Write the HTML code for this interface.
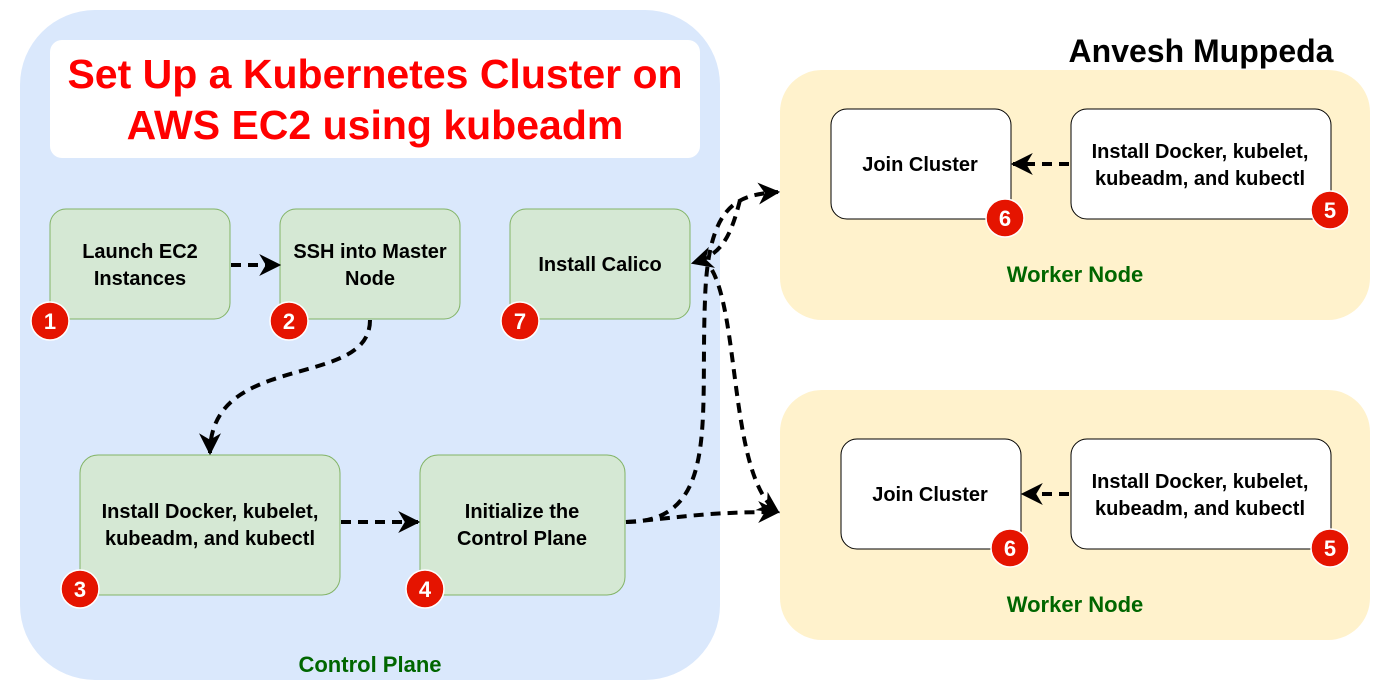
<!DOCTYPE html>
<html><head><style>body{margin:0;background:#fff}svg{display:block}text{font-family:"Liberation Sans",Arial,sans-serif;font-weight:bold}</style></head><body>
<svg width="1390" height="690" viewBox="0 0 1390 690" xmlns="http://www.w3.org/2000/svg">
<defs><marker id="a" viewBox="0 0 10 10" refX="9" refY="5" markerWidth="5.5" markerHeight="5.5" orient="auto"><path d="M0,0 L10,5 L0,10 L3,5z" fill="#000"/></marker></defs>
<rect x="20" y="10" width="700" height="670" rx="75" fill="#dae8fc"/>
<rect x="50" y="40" width="650" height="118" rx="12" fill="#fff"/>
<text x="375" y="88" font-size="41" fill="#ff0000" text-anchor="middle">Set Up a Kubernetes Cluster on</text>
<text x="375" y="139" font-size="41" fill="#ff0000" text-anchor="middle">AWS EC2 using kubeadm</text>
<text x="1201" y="62" font-size="32" text-anchor="middle">Anvesh Muppeda</text>
<rect x="780" y="70" width="590" height="250" rx="42" fill="#fff2cc"/>
<rect x="780" y="390" width="590" height="250" rx="42" fill="#fff2cc"/>
<g fill="#d5e8d4" stroke="#82b366" stroke-width="1">
<rect x="50" y="209" width="180" height="110" rx="16"/>
<rect x="280" y="209" width="180" height="110" rx="16"/>
<rect x="510" y="209" width="180" height="110" rx="16"/>
<rect x="80" y="455" width="260" height="140" rx="18"/>
<rect x="420" y="455" width="205" height="140" rx="18"/>
</g>
<g fill="#fff" stroke="#000" stroke-width="1">
<rect x="831" y="109" width="180" height="110" rx="16"/>
<rect x="1071" y="109" width="260" height="110" rx="16"/>
<rect x="841" y="439" width="180" height="110" rx="16"/>
<rect x="1071" y="439" width="260" height="110" rx="16"/>
</g>
<g font-size="20" text-anchor="middle">
<text x="140" y="258">Launch EC2</text><text x="140" y="285">Instances</text>
<text x="370" y="258">SSH into Master</text><text x="370" y="285">Node</text>
<text x="600" y="271">Install Calico</text>
<text x="210" y="518">Install Docker, kubelet,</text><text x="210" y="545">kubeadm, and kubectl</text>
<text x="522" y="518">Initialize the</text><text x="522" y="545">Control Plane</text>
<text x="920" y="171">Join Cluster</text>
<text x="1200" y="158">Install Docker, kubelet,</text><text x="1200" y="185">kubeadm, and kubectl</text>
<text x="930" y="501">Join Cluster</text>
<text x="1200" y="488">Install Docker, kubelet,</text><text x="1200" y="515">kubeadm, and kubectl</text>
</g>
<g font-size="22" fill="#006600" text-anchor="middle">
<text x="370" y="672">Control Plane</text>
<text x="1075" y="282">Worker Node</text>
<text x="1075" y="612">Worker Node</text>
</g>
<g fill="none" stroke="#000" stroke-width="4" stroke-dasharray="10,7" marker-end="url(#a)">
<path d="M231,265 L279,265"/>
<path d="M370,320 C370,390 210,350 210,453"/>
<path d="M341,522 L418,522"/>
<path d="M1069,164 L1013,164"/>
<path d="M1069,494 L1023,494"/>
<path d="M626,522 C720,522 700,420 705,300 C708,200 740,195 778,192"/>
<path d="M626,522 C680,518 700,512 778,512"/>
<path d="M740,200 C730,240 720,255 693,263"/>
<path d="M712,270 C740,320 730,480 778,512"/>
</g>
<g stroke="#fff" stroke-width="1.5" fill="#e51400">
<circle cx="50" cy="321" r="19"/><circle cx="289" cy="321" r="19"/><circle cx="520" cy="321" r="19"/>
<circle cx="80" cy="589" r="19"/><circle cx="425" cy="589" r="19"/>
<circle cx="1005" cy="218" r="19"/><circle cx="1330" cy="210" r="19"/>
<circle cx="1010" cy="548" r="19"/><circle cx="1330" cy="548" r="19"/>
</g>
<g font-size="22" fill="#fff" text-anchor="middle">
<text x="50" y="329">1</text><text x="289" y="329">2</text><text x="520" y="329">7</text>
<text x="80" y="597">3</text><text x="425" y="597">4</text>
<text x="1005" y="226">6</text><text x="1330" y="218">5</text>
<text x="1010" y="556">6</text><text x="1330" y="556">5</text>
</g>
</svg>
</body></html>
